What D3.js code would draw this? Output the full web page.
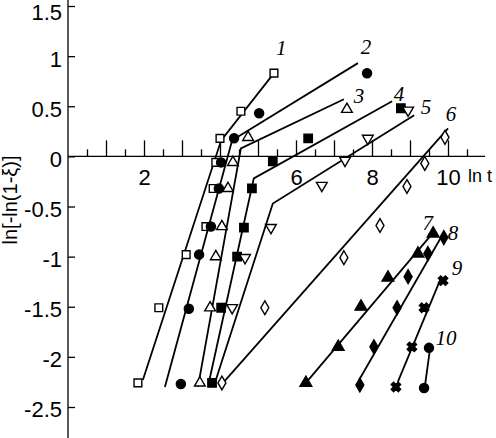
<!DOCTYPE html>
<html>
<head>
<meta charset="utf-8">
<script src="https://cdn.jsdelivr.net/npm/d3@7.9.0/dist/d3.min.js"></script>
<style>
  body { margin: 0; background: #fff; }
  svg { display: block; }
  .tick text { font-family: "Liberation Sans Narrow", "Arial Narrow", "Liberation Sans", Arial, sans-serif; }
</style>
</head>
<body>
<div id="chart"></div>
<script>
// measured points, [ln t, ln(-ln(1-xi))]
const pts1 = [[1.84,-2.26],[2.39,-1.51],[3.11,-0.98],[3.63,-0.70],[3.82,-0.32],[3.89,-0.06],[4.00,0.18],[4.55,0.45],[5.42,0.83]];
const pts2 = [[2.97,-2.27],[3.18,-1.52],[3.45,-0.98],[3.76,-0.70],[3.97,-0.32],[4.03,-0.06],[4.37,0.18],[5.03,0.43],[7.87,0.83]];
const pts3 = [[3.47,-2.26],[3.74,-1.51],[3.89,-1.00],[4.05,-0.70],[4.21,-0.32],[4.34,-0.06],[4.74,0.19],[7.34,0.47]];
const pts4 = [[3.79,-2.26],[4.03,-1.51],[4.45,-1.00],[4.63,-0.71],[4.84,-0.32],[5.39,-0.05],[6.32,0.18],[8.76,0.48]];
const pts5 = [[4.32,-1.51],[4.66,-1.01],[5.34,-0.71],[6.68,-0.29],[7.29,-0.04],[7.89,0.18],[8.95,0.46]];
const pts6 = [[4.05,-2.26],[5.18,-1.51],[7.26,-1.01],[8.21,-0.69],[8.92,-0.30],[9.39,-0.07],[9.92,0.19]];
const pts7 = [[6.26,-2.26],[7.11,-1.90],[7.71,-1.50],[8.42,-1.21],[9.21,-0.97],[9.61,-0.77]];
const pts8 = [[7.68,-2.28],[8.05,-1.90],[8.66,-1.51],[8.95,-1.20],[9.47,-0.97],[9.89,-0.81]];
const pts9 = [[8.63,-2.30],[9.05,-1.90],[9.37,-1.51],[9.87,-1.24]];
const pts10 = [[9.37,-2.31],[9.50,-1.91]];

// fitted straight segments (two stages for curves 1-5)
const fit1 = [[1.97,-2.23],[4.03,0.16],[5.42,0.83]];
const fit2 = [[2.55,-2.30],[4.32,0.16],[7.63,0.93]];
const fit3 = [[3.42,-2.30],[4.55,0.08],[7.26,0.57]];
const fit4 = [[3.71,-2.25],[4.89,-0.22],[8.53,0.55]];
const fit5 = [[3.89,-2.23],[5.39,-0.47],[9.11,0.41]];
const fit6 = [[4.08,-2.26],[10.0,0.28]];
const fit7 = [[6.26,-2.26],[9.61,-0.76]];
const fit8 = [[7.66,-2.23],[9.89,-0.76]];
const fit9 = [[8.68,-2.25],[9.82,-1.21]];
const fit10 = [[9.39,-2.30],[9.53,-1.91]];

const markers = ['square','circle','triangle','fsquare','tridown','diamond','ftriangle','fdiamond','cross','circle'];
const curveLabels = ['1','2','3','4','5','6','7','8','9','10'];
const labelPos = [[5.61,1.08],[7.84,1.09],[7.66,0.61],[8.71,0.63],[9.42,0.50],[10.08,0.43],[9.47,-0.66],[10.13,-0.76],[10.24,-1.11],[9.95,-1.81]];

const yTicks = [-2.5,-2,-1.5,-1,-0.5,0,0.5,1,1.5];
const xMajor = [1,2,3,4,5,6,7,8,9,10];
const xMinor = [0.5,1.5,2.5,3.5,4.5,5.5,6.5,7.5,8.5,9.5,10.5];
const xLabels = [2,6,8,10];

const allPts = [pts1,pts2,pts3,pts4,pts5,pts6,pts7,pts8,pts9,pts10];
const allFits = [fit1,fit2,fit3,fit4,fit5,fit6,fit7,fit8,fit9,fit10];
const series = allPts.map((p,i) => ({ pts: p, fit: allFits[i], marker: markers[i], label: curveLabels[i], lp: labelPos[i] }));

const W = 496, H = 438;
const x = d3.scaleLinear().domain([0, 11]).range([68, 486]);
const y = d3.scaleLinear().domain([-2.5, 1.5]).range([407, 6]);

const svg = d3.select('#chart').append('svg')
  .attr('width', W).attr('height', H)
  .attr('viewBox', `0 0 ${W} ${H}`);

// y axis
const gy = svg.append('g')
  .attr('transform', `translate(${x(0)},0)`)
  .call(d3.axisLeft(y).tickValues(yTicks).tickSizeInner(-7).tickSizeOuter(0).tickPadding(6)
    .tickFormat(d => String(d)));
gy.select('.domain').remove();
gy.selectAll('.tick line').attr('stroke', '#000').attr('stroke-width', 1.3);
gy.selectAll('.tick text').attr('font-size', 22).attr('fill', '#000')
  .attr('dy', d => d === 1.5 ? '0.62em' : '0.45em');
gy.append('line').attr('y1', 0).attr('y2', H).attr('stroke', '#000').attr('stroke-width', 1.3);

// x axis: tall integer ticks, short half ticks, crossing at y=0
const gx = svg.append('g')
  .attr('transform', `translate(0,${y(0)})`)
  .call(d3.axisBottom(x).tickValues(xMajor).tickSizeInner(-16).tickSizeOuter(0).tickPadding(10)
    .tickFormat(d => xLabels.includes(d) ? String(d) : ''));
gx.select('.domain').remove();
gx.selectAll('.tick text').attr('font-size', 22).attr('fill', '#000').attr('dy', '0.85em');
const gx2 = svg.append('g')
  .attr('transform', `translate(0,${y(0)})`)
  .call(d3.axisBottom(x).tickValues(xMinor).tickSizeInner(-7).tickSizeOuter(0).tickFormat(''));
gx2.select('.domain').remove();
svg.selectAll('.tick line').attr('stroke', '#000').attr('stroke-width', 1.3);
svg.append('line').attr('x1', x(0)).attr('x2', 485).attr('y1', y(0)).attr('y2', y(0))
  .attr('stroke', '#000').attr('stroke-width', 1.3);

svg.append('text')
  .attr('x', 468).attr('y', y(0) + 26)
  .attr('font-family', '"Liberation Sans", Arial, sans-serif')
  .attr('font-size', 18).text('ln t');

svg.append('text')
  .attr('transform', `translate(17,${200}) rotate(-90)`)
  .attr('text-anchor', 'middle')
  .attr('font-family', '"Liberation Sans Narrow", "Liberation Sans", Arial, sans-serif')
  .attr('font-size', 20).text('ln[-ln(1-ξ)]');

// fitted lines
const line = d3.line().x(d => x(d[0])).y(d => y(d[1]));
svg.append('g').selectAll('path')
  .data(series).join('path')
    .attr('d', d => line(d.fit))
    .attr('fill', 'none').attr('stroke', '#000').attr('stroke-width', 1.8);

// markers
function symbolFor(m) {
  const types = {
    square: [d3.symbolSquare, 60], fsquare: [d3.symbolSquare, 70],
    circle: [d3.symbolCircle, 65], triangle: [d3.symbolTriangle, 50],
    ftriangle: [d3.symbolTriangle, 60], tridown: [d3.symbolTriangle, 50],
    diamond: [d3.symbolDiamond, 55], fdiamond: [d3.symbolDiamond, 55],
    cross: [d3.symbolCross, 55]
  };
  const [t, s] = types[m];
  return d3.symbol().type(t).size(s)();
}
const filled = new Set(['circle','fsquare','ftriangle','fdiamond','cross']);
const rot = { tridown: 180, cross: 45 };

series.forEach(s => {
  svg.append('g').selectAll('path')
    .data(s.pts).join('path')
      .attr('d', symbolFor(s.marker))
      .attr('transform', d => `translate(${x(d[0])},${y(d[1])}) rotate(${rot[s.marker] || 0})`)
      .attr('fill', filled.has(s.marker) ? '#000' : '#fff')
      .attr('stroke', '#000').attr('stroke-width', 1.4);
});

// curve numbers
svg.append('g').selectAll('text')
  .data(series).join('text')
    .attr('x', d => x(d.lp[0])).attr('y', d => y(d.lp[1]))
    .attr('dy', '0.35em').attr('text-anchor', 'middle')
    .attr('font-family', '"Liberation Serif", "Times New Roman", serif')
    .attr('font-style', 'italic').attr('font-size', 21)
    .text(d => d.label);
</script>
</body>
</html>
